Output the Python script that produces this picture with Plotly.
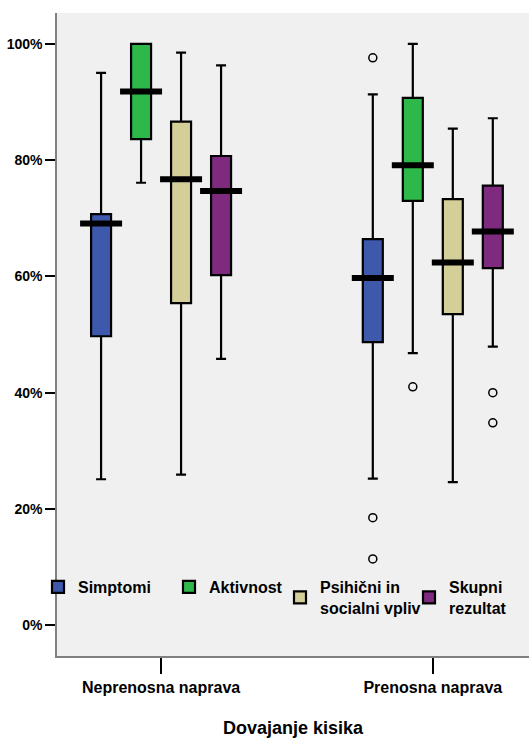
import plotly.graph_objects as go

# ---- data (percent) ----
groups = ["Neprenosna naprava", "Prenosna naprava"]
series = ["Simptomi", "Aktivnost", "Psihični in<br>socialni vpliv", "Skupni<br>rezultat"]
colors = ["#3e58ac", "#2fb84a", "#d4cf98", "#7e2a7e"]

# per series: [group1, group2]
lower_w = [[25.1, 25.2], [76.1, 46.8], [25.9, 24.6], [45.8, 47.9]]
q1 = [[49.7, 48.7], [83.6, 73.0], [55.4, 53.5], [60.2, 61.4]]
median = [[69.1, 59.7], [91.8, 79.1], [76.7, 62.4], [74.7, 67.7]]
q3 = [[70.7, 66.4], [100.0, 90.7], [86.6, 73.3], [80.7, 75.6]]
upper_w = [[95.0, 91.3], [100.0, 100.0], [98.5, 85.4], [96.3, 87.2]]
# outliers: (series index, group index, value)
outliers = [
    (0, 1, 97.6), (0, 1, 18.5), (0, 1, 11.4),
    (1, 1, 41.0),
    (3, 1, 40.0), (3, 1, 34.8),
]

tick_vals = [0, 20, 40, 60, 80, 100]
tick_text = ["0%", "20%", "40%", "60%", "80%", "100%"]

FONT = "Liberation Sans Narrow, Arial Narrow, Liberation Sans, Arial, sans-serif"
step = 0.1472
box_w = 0.0736
offsets = [(i - 1.5) * step for i in range(len(series))]

fig = go.Figure()
legend_names = ["legend", "legend2", "legend3", "legend4"]
for i, name in enumerate(series):
    xs = [g + offsets[i] for g in range(len(groups))]
    fig.add_trace(go.Box(
        x=xs, q1=q1[i], median=median[i], q3=q3[i],
        lowerfence=lower_w[i], upperfence=upper_w[i],
        name=name, fillcolor=colors[i],
        line=dict(color="black", width=2.2),
        width=box_w, whiskerwidth=0.5, boxpoints=False,
        legend=legend_names[i], showlegend=True,
    ))
    fig.add_trace(go.Scatter(
        x=xs, y=median[i], mode="markers", showlegend=False,
        marker=dict(symbol="line-ew", size=30,
                    line=dict(color="black", width=6)),
        hoverinfo="skip",
    ))

ox = [g + offsets[s] for s, g, v in outliers]
oy = [v for s, g, v in outliers]
fig.add_trace(go.Scatter(
    x=ox, y=oy, mode="markers", showlegend=False,
    marker=dict(symbol="circle-open", size=8, color="black",
                line=dict(color="black", width=1.5)),
))

# plot area geometry: x 57..529, y 13..656
legend_px = [38, 169, 280, 409]
leg_common = dict(
    y=(656 - 570) / 643, yanchor="top", xanchor="left",
    bgcolor="rgba(0,0,0,0)", valign="middle",
    font=dict(family=FONT, size=16, color="black", weight="bold"),
)
layout_legends = {}
for i, ln in enumerate(legend_names):
    layout_legends[ln] = dict(x=(legend_px[i] - 57) / 472, **leg_common)

fig.update_layout(
    width=529, height=740,
    margin=dict(l=57, r=0, t=13, b=84, autoexpand=False),
    paper_bgcolor="white", plot_bgcolor="#f0f0f0",
    font=dict(family=FONT, color="black"),
    **layout_legends,
)
fig.update_xaxes(
    range=[-0.383, 1.354], tickvals=list(range(len(groups))), ticktext=groups,
    ticks="outside", ticklen=16, tickwidth=1.5, tickcolor="black",
    showline=True, linecolor="#808080", linewidth=1.5, showgrid=False,
    zeroline=False, automargin=False,
    tickfont=dict(family=FONT, size=16, color="black", weight="bold"),
    title=dict(text="Dovajanje kisika", standoff=26,
               font=dict(family=FONT, size=18, color="black", weight="bold")),
)
fig.update_yaxes(
    range=[-5.3, 105.3], tickvals=tick_vals, ticktext=tick_text,
    ticks="outside", ticklen=10, tickwidth=2, tickcolor="black",
    showline=True, linecolor="#808080", linewidth=1.5, showgrid=False,
    zeroline=False, automargin=False,
    tickfont=dict(family=FONT, size=14, color="black", weight="bold"),
)

fig.write_html(
    "out.html",
    config={"displayModeBar": False},
    post_script="document.body.style.margin='0';document.body.style.overflow='hidden';",
)
